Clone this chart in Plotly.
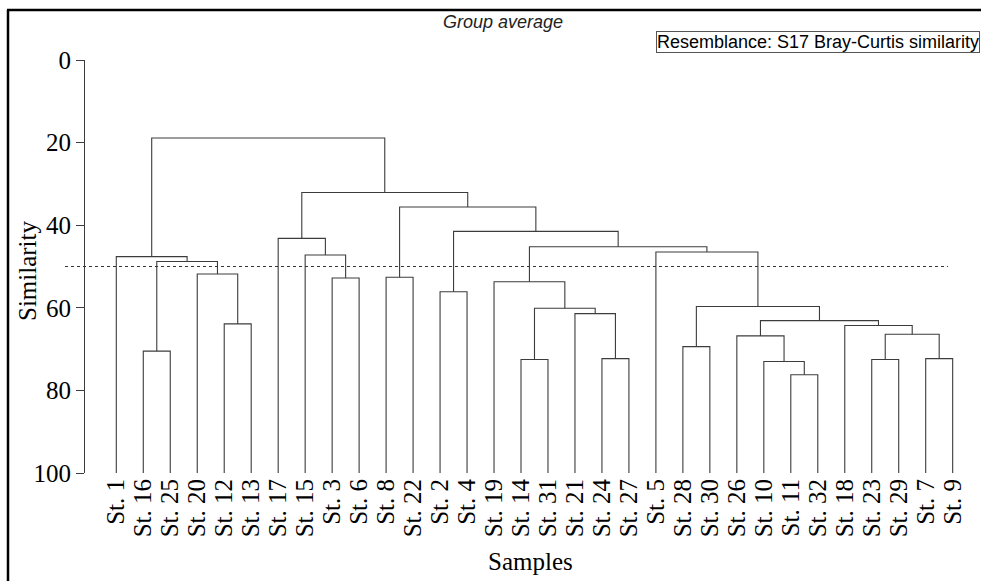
import plotly.graph_objects as go

# ---- data ----
leaf_labels = ["St. 1", "St. 16", "St. 25", "St. 20", "St. 12", "St. 13", "St. 17", "St. 15",
               "St. 3", "St. 6", "St. 8", "St. 22", "St. 2", "St. 4", "St. 19", "St. 14",
               "St. 31", "St. 21", "St. 24", "St. 27", "St. 5", "St. 28", "St. 30", "St. 26",
               "St. 10", "St. 11", "St. 32", "St. 18", "St. 23", "St. 29", "St. 7", "St. 9"]
# merges: node ids 0..31 are leaves, merge k gets id 32+k
merge_left = [1, 4, 3, 32, 0, 8, 7, 6, 10, 12, 15, 18, 17, 42, 14, 21, 25, 24, 23, 28, 30, 51, 27, 50, 47, 20, 46, 41, 40, 39, 36]
merge_right = [2, 5, 33, 34, 35, 9, 37, 38, 11, 13, 16, 19, 43, 44, 45, 22, 26, 48, 49, 29, 31, 52, 53, 54, 55, 56, 57, 58, 59, 60, 61]
merge_height = [70.5, 63.9, 51.8, 48.8, 47.6, 52.8, 47.2, 43.2, 52.6, 56.1, 72.5, 72.3, 61.4, 60.1, 53.7,
                69.4, 76.2, 73.0, 66.8, 72.5, 72.3, 66.4, 64.3, 63.1, 59.7, 46.5, 45.2, 41.5, 35.6, 32.1, 18.9]
leaf_similarity = 100
cut_level = 50
y_ticks = [0, 20, 40, 60, 80, 100]

n = len(leaf_labels)
pos = {i: float(i) for i in range(n)}
hgt = {i: leaf_similarity for i in range(n)}
xs, ys = [], []
for k, (a, b, h) in enumerate(zip(merge_left, merge_right, merge_height)):
    xs += [pos[a], pos[a], pos[b], pos[b], None]
    ys += [hgt[a], h, h, hgt[b], None]
    pos[n + k] = (pos[a] + pos[b]) / 2
    hgt[n + k] = h

LINE = "#3c3c3c"
fig = go.Figure()
fig.add_trace(go.Scatter(x=xs, y=ys, mode="lines", line=dict(color=LINE, width=1.1),
                         hoverinfo="skip", showlegend=False))

W, H = 981, 581
ml, mr, mt, mb = 85, 16, 60, 108
pw, ph = W - ml - mr, H - mt - mb
x0px, step = 116.3, 26.98
xr = [(ml - x0px) / step, (W - mr - x0px) / step]
y_range = [100, 0]

def px(p):
    return (p - ml) / pw

def py(p):
    return (H - mb - p) / ph

# paper-y of the cut level on the reversed similarity axis
cut_paper = (y_range[0] - cut_level) / (y_range[0] - y_range[1])

serif = "Liberation Serif, Times New Roman, serif"
sans = "Liberation Sans, Arial, sans-serif"

fig.update_layout(
    width=W, height=H,
    margin=dict(l=ml, r=mr, t=mt, b=mb),
    paper_bgcolor="white", plot_bgcolor="white",
    xaxis=dict(range=xr, tickmode="array", tickvals=list(range(n)), ticktext=leaf_labels,
               tickangle=-90, showline=False, showgrid=False, zeroline=False,
               ticks="",
               tickfont=dict(family=serif, size=25, color="black")),
    yaxis=dict(range=y_range, tickmode="array", tickvals=y_ticks, showgrid=False, zeroline=False,
               showline=True, linecolor=LINE, linewidth=1, ticks="outside", ticklen=8,
               tickcolor=LINE, tickfont=dict(family=serif, size=25, color="black")),
    shapes=[
        dict(type="line", xref="paper", yref="paper", x0=px(65), x1=px(948), y0=cut_paper, y1=cut_paper,
             line=dict(color="#333333", width=1, dash="dot")),
        dict(type="line", xref="paper", yref="paper", x0=px(7), x1=px(981), y0=py(10), y1=py(10),
             line=dict(color="black", width=2.5)),
        dict(type="line", xref="paper", yref="paper", x0=px(8), x1=px(8), y0=py(10), y1=py(581),
             line=dict(color="black", width=2.5)),
    ],
    annotations=[
        dict(text="Group average", xref="paper", yref="paper", x=px(503), y=py(22),
             showarrow=False, font=dict(family=sans, size=18, color="#222222", style="italic"),
             xanchor="center", yanchor="middle"),
        dict(text="Resemblance: S17 Bray-Curtis similarity", xref="paper", yref="paper",
             x=px(980), y=py(42), showarrow=False, xanchor="right", yanchor="middle",
             font=dict(family=sans, size=18, color="black"), bordercolor="#555555",
             borderwidth=1, borderpad=0, bgcolor="white"),
        dict(text="Similarity", xref="paper", yref="paper", x=px(27), y=py(271), textangle=-90,
             showarrow=False, xanchor="center", yanchor="middle",
             font=dict(family=serif, size=25, color="black")),
        dict(text="Samples", xref="paper", yref="paper", x=px(530), y=py(561),
             showarrow=False, xanchor="center", yanchor="middle",
             font=dict(family=serif, size=25, color="black")),
    ],
)
fig.write_html("out.html", config={"displayModeBar": False},
               post_script="document.body.style.margin='0';document.body.style.overflow='hidden';")
